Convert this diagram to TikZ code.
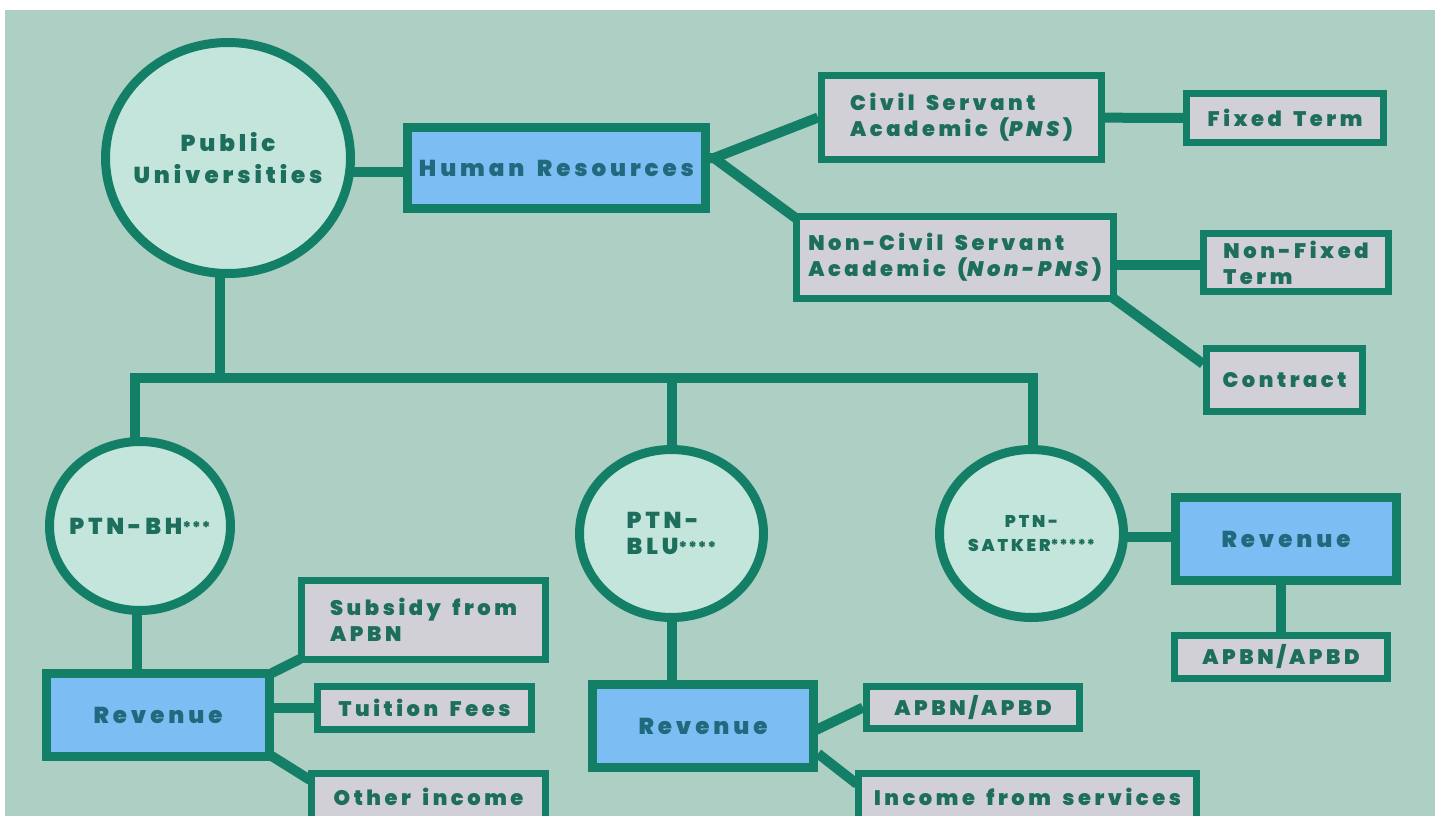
\documentclass[tikz,border=0pt]{standalone}
\usepackage{fontspec}
\setmainfont{Poppins}[UprightFont=* Bold, ItalicFont=* Bold Italic, BoldFont=* Black, BoldItalicFont=* Black Italic, LetterSpace=17, WordSpace=1.6]
\usetikzlibrary{shapes.geometric,calc}
\definecolor{bgc}{HTML}{AECFC4}
\definecolor{tealc}{HTML}{137F66}
\definecolor{circf}{HTML}{C4E5DB}
\definecolor{bluef}{HTML}{7CBDF3}
\definecolor{greyf}{HTML}{D0D0D6}
\definecolor{txtg}{HTML}{1D6E5C}
\definecolor{txtb}{HTML}{1F6A7C}
\pgfdeclarelayer{edges}
\pgfsetlayers{edges,main}
\tikzset{
  big/.style={font=\bfseries\fontsize{23}{32}\selectfont},
  mid/.style={font=\bfseries\fontsize{21}{26}\selectfont},
  circ/.style={ellipse, draw=tealc, line width=9pt, fill=circf, inner sep=0pt},
  ctext/.style={inner sep=0pt, text=txtg, big, align=center},
  bbox/.style={rectangle, draw=tealc, line width=9pt, fill=bluef, inner sep=0pt, text=txtb, big, align=center},
  gbox/.style={rectangle, draw=tealc, line width=7pt, fill=greyf, inner sep=0pt, text=txtg, mid, align=center},
  conn/.style={draw=tealc, line width=10pt, line join=miter},
}
\newcommand{\stars}[2]{\raisebox{1pt}{\fontsize{#1}{#1}\selectfont\addfontfeatures{LetterSpace=4}#2}}
\begin{document}
\begin{tikzpicture}[x=1pt,y=-1pt]
\useasboundingbox (0,0) rectangle (1440,816);
\clip (0,0) rectangle (1440,816);
\begin{pgfonlayer}{edges}
\fill[white] (0,0) rectangle (1440,816);
\fill[bgc] (5,10) rectangle (1435,816);
\end{pgfonlayer}

% circles
\node[circ, minimum width=245, minimum height=231] (pu) at (228,158) {};
\node[ctext] (put) at (pu.center) {Public\\Universities};
\node[circ, minimum width=181, minimum height=169] (bh) at (140,526) {};
\node[ctext] (bht) at (bh.center) {PTN-BH\stars{16}{***}};
\node[circ, minimum width=184, minimum height=168] (blu) at (671.5,533.5) {};
\node[ctext, align=left, font=\bfseries\fontsize{23}{26}\selectfont] (blut) at (blu.center) {PTN-\\BLU\stars{16}{****}};
\node[circ, minimum width=184, minimum height=168] (satker) at (1031.5,533.5) {};
\node[ctext, font=\bfseries\fontsize{17}{24}\selectfont] (satkert) at (satker.center) {PTN-\\SATKER\stars{15}{*****}};

% boxes
\node[bbox, minimum width=298, minimum height=81] (hr) at (556.5,168) {Human Resources};
\node[gbox, minimum width=280, minimum height=84, align=left] (civ) at (961.5,117.5) {Civil Servant\\Academic (\textit{PNS})};
\node[gbox, minimum width=197, minimum height=49] (fixed) at (1285,118) {Fixed Term};
\node[gbox, minimum width=317, minimum height=82, align=left] (noncv) at (955,257.5) {Non-Civil Servant\\Academic (\textit{Non-PNS})};
\node[gbox, minimum width=185, minimum height=58, align=left] (nfixed) at (1296,262.5) {Non-Fixed\\Term};
\node[gbox, minimum width=156, minimum height=63] (contract) at (1284.5,380) {Contract};

\node[bbox, minimum width=223, minimum height=83] (rbh) at (158,715) {Revenue};
\node[gbox, minimum width=244, minimum height=79, align=left] (subs) at (423.5,620) {Subsidy from\\APBN};
\node[gbox, minimum width=214, minimum height=43] (tuit) at (424.5,708) {Tuition Fees};
\node[gbox, minimum width=234, minimum height=47] (other) at (428.5,797) {Other income};

\node[bbox, minimum width=221, minimum height=83] (rblu) at (703,726) {Revenue};
\node[gbox, minimum width=213, minimum height=42] (apblu) at (973,707.5) {APBN/APBD};
\node[gbox, minimum width=338, minimum height=47] (incs) at (1027.5,797) {Income from services};

\node[bbox, minimum width=221, minimum height=83] (rsat) at (1286,539) {Revenue};
\node[gbox, minimum width=213, minimum height=43] (apsat) at (1281,657) {APBN/APBD};

% connectors
\begin{pgfonlayer}{edges}
\coordinate (hrv) at ($(hr.east)+(4,-10)$);
\draw[conn] (pu.center |- 0,172) -- (hr.west |- 0,172);
\draw[conn] (hr.center |- hrv) -- (hrv) -- (civ.west);
\draw[conn] (hrv) -- ($(noncv.north west)+(4,6)$);
\draw[conn] (civ.center) -- (fixed.center);
\draw[conn] (noncv.center |- 0,265) -- (nfixed.center |- 0,265);
\draw[conn] ($(noncv.south east)+(-4,-4)$) -- ($(contract.north west)!0.27!(contract.south west)$);

\coordinate (bus) at (0,378);
\draw[conn] ([xshift=-8pt]pu.center) -- ([xshift=-8pt]pu.center |- bus);
\draw[conn] ([xshift=-5pt]bh.center) -- ([xshift=-5pt]bh.center |- bus) -- ([xshift=1.5pt]satker.center |- bus) -- ([xshift=1.5pt]satker.center);
\draw[conn] (blu.center) -- (blu.center |- bus);

\draw[conn] ([xshift=-3pt]bh.center) -- ([xshift=-3pt]bh.center |- rbh.center);
\draw[conn] ($(rbh.north east)+(-2,4)$) -- ($(subs.south west)+(2,-4)$);
\draw[conn] (rbh.center |- tuit.center) -- (tuit.center);
\draw[conn] ($(rbh.south east)+(-4,-6)$) -- ($(other.north west)+(2,10)$);

\draw[conn] (blu.center) -- (blu.center |- rblu.center);
\draw[conn] ($(rblu.east)+(-2,4)$) -- (apblu.west);
\draw[conn] ($(rblu.north east)!0.8!(rblu.south east)$) -- ($(incs.north west)+(2,14)$);

\draw[conn] (satker.center |- 0,537) -- (rsat.center |- 0,537);
\draw[conn] (rsat.center -| apsat.center) -- (apsat.center);
\end{pgfonlayer}
\end{tikzpicture}
\end{document}
